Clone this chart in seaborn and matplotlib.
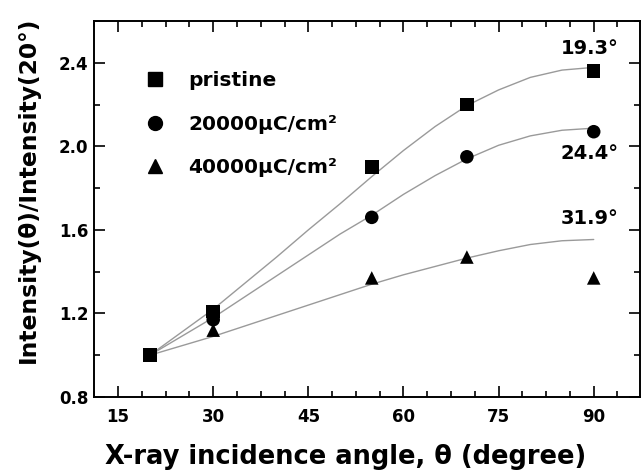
import matplotlib
matplotlib.use("Agg")
import matplotlib.pyplot as plt
from matplotlib.ticker import MultipleLocator, AutoMinorLocator, FormatStrFormatter
from matplotlib.lines import Line2D
import seaborn as sns
import pandas as pd

# Measured intensity ratios
angles = [20, 30, 55, 70, 90]
pristine = [1.00, 1.21, 1.90, 2.20, 2.36]
dose_20000 = [1.00, 1.17, 1.66, 1.95, 2.07]
dose_40000 = [1.00, 1.12, 1.37, 1.47, 1.37]

# Fitted curves
fit_angles = [20, 25, 30, 35, 40, 45, 50, 55, 60, 65, 70, 75, 80, 85, 90]
fit_pristine = [1.00, 1.11, 1.22, 1.345, 1.47, 1.60, 1.725, 1.855, 1.98, 2.095, 2.195, 2.27, 2.33, 2.365, 2.378]
fit_20000 = [1.00, 1.09, 1.18, 1.28, 1.38, 1.48, 1.58, 1.67, 1.77, 1.86, 1.94, 2.005, 2.05, 2.077, 2.087]
fit_40000 = [1.00, 1.045, 1.09, 1.14, 1.19, 1.24, 1.29, 1.34, 1.385, 1.425, 1.465, 1.50, 1.53, 1.548, 1.554]

series_labels = ["pristine", "20000μC/cm²", "40000μC/cm²"]
series_markers = ["s", "o", "^"]
fit_labels = ["19.3°", "24.4°", "31.9°"]
fit_label_pos = [(89.4, 2.467), (89.4, 1.965), (89.4, 1.654)]

sns.set_theme(style="white")
plt.rcParams["font.family"] = ["DejaVu Sans"]
plt.rcParams.update({
    "font.weight": "bold",
    "text.color": "black",
    "axes.labelcolor": "black",
    "xtick.color": "black",
    "ytick.color": "black",
})

points = pd.DataFrame({
    "angle": angles * 3,
    "ratio": pristine + dose_20000 + dose_40000,
    "sample": sum([[s] * len(angles) for s in series_labels], []),
})
fits = pd.DataFrame({
    "angle": fit_angles * 3,
    "ratio": fit_pristine + fit_20000 + fit_40000,
    "sample": sum([[s] * len(fit_angles) for s in series_labels], []),
})

fig = plt.figure(figsize=(6.41, 4.70), dpi=100)
ax = fig.add_axes([94 / 641, 1 - 397 / 470, 546 / 641, 376 / 470])

sns.lineplot(data=fits, x="angle", y="ratio", units="sample", estimator=None,
             color="#9a9a9a", linewidth=1.0, ax=ax, legend=False, sort=False)
sns.scatterplot(data=points, x="angle", y="ratio", style="sample",
                markers=dict(zip(series_labels, series_markers)),
                color="black", edgecolor="black", s=95, linewidth=0,
                ax=ax, legend=False, zorder=3)

for text, (x, y) in zip(fit_labels, fit_label_pos):
    ax.text(x, y, text, ha="center", va="center", fontsize=14,
            fontweight="bold", color="black")

handles = [Line2D([], [], marker=m, color="black", linestyle="none", markersize=10)
           for m in series_markers]
leg = ax.legend(handles, series_labels, loc="upper left", bbox_to_anchor=(0.041, 0.915),
                frameon=False, handlelength=2.0, handletextpad=0.65, labelspacing=1.22,
                borderpad=0.4, prop={"weight": "bold", "size": 14.5})
for t in leg.get_texts():
    t.set_color("black")

ax.set_xlim(11.2, 97.3)
ax.set_ylim(0.8, 2.6)
ax.xaxis.set_major_locator(MultipleLocator(15))
ax.xaxis.set_minor_locator(AutoMinorLocator(4))
ax.yaxis.set_major_locator(MultipleLocator(0.4))
ax.yaxis.set_minor_locator(AutoMinorLocator(2))
ax.yaxis.set_major_formatter(FormatStrFormatter("%.1f"))

ax.tick_params(which="both", direction="in", top=True, right=True,
               bottom=True, left=True, width=1.2, colors="black")
ax.tick_params(which="major", length=8)
ax.tick_params(which="minor", length=4.5)
ax.tick_params(axis="x", which="major", pad=8, labelsize=12)
ax.tick_params(axis="y", which="major", pad=4, labelsize=12)
for lbl in ax.get_xticklabels() + ax.get_yticklabels():
    lbl.set_fontweight("bold")
for sp in ax.spines.values():
    sp.set_linewidth(1.4)
    sp.set_color("black")

ax.set_xlabel("X-ray incidence angle, θ (degree)", fontsize=18.5, fontweight="bold",
              va="baseline", color="black")
ax.xaxis.set_label_coords(0.46, -0.178)
ax.set_ylabel("Intensity(θ)/Intensity(20°)", fontsize=16.8, fontweight="bold",
              va="center", color="black")
ax.yaxis.set_label_coords(-0.121, 0.55)

fig.savefig("out.png", dpi=100)
